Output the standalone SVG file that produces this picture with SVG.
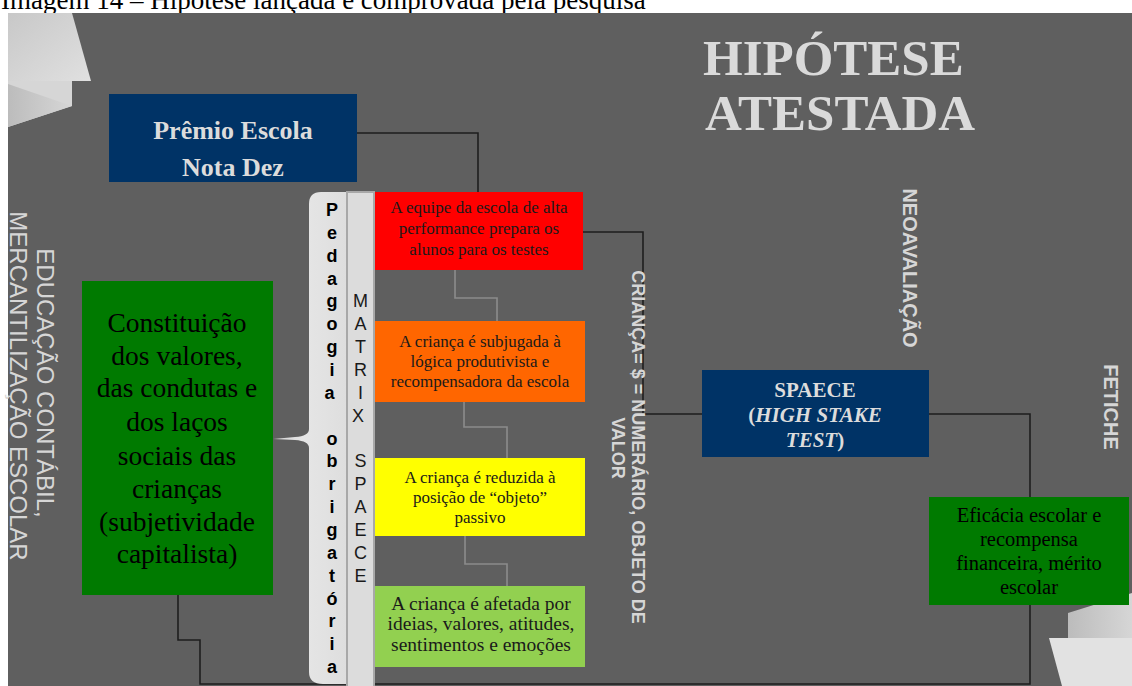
<svg xmlns="http://www.w3.org/2000/svg" width="1132" height="686" viewBox="0 0 1132 686">
<style>
.cap{font-family:"Liberation Serif",serif;font-size:27px;fill:#000}
.title{font-family:"Liberation Serif",serif;font-weight:bold;font-size:51px;fill:#dadada}
.navyt{font-family:"Liberation Serif",serif;font-weight:bold;fill:#dcdcdc;text-anchor:middle}
.bt{font-family:"Liberation Serif",serif;font-size:17px;fill:#1a1a1a;text-anchor:middle}
.bg{font-family:"Liberation Serif",serif;font-size:19.5px;fill:#1a1a1a;text-anchor:middle}
.ef{font-family:"Liberation Serif",serif;font-size:20.5px;fill:#000;text-anchor:middle}
.big{font-family:"Liberation Serif",serif;font-size:27.5px;fill:#000;text-anchor:middle}
.side{font-family:"Liberation Sans",Arial,sans-serif;fill:#d6d6d6;text-anchor:middle}
.sideb{font-family:"Liberation Sans",Arial,sans-serif;font-weight:bold;fill:#d6d6d6;text-anchor:middle}
.ped{font-family:"Liberation Sans",Arial,sans-serif;font-weight:bold;font-size:18px;fill:#000;text-anchor:middle}
.mat{font-family:"Liberation Sans",Arial,sans-serif;font-size:18px;fill:#1a1a1a;text-anchor:middle}
.blk{fill:none;stroke:#1e1e1e;stroke-width:1.6}
.gry{fill:none;stroke:#8c8c8c;stroke-width:1.6}
</style>
<defs>
<linearGradient id="pg1" x1="0" y1="0" x2="1" y2="1"><stop offset="0" stop-color="#c8c8c8"/><stop offset="1" stop-color="#e0e0e0"/></linearGradient>
<linearGradient id="pg2" x1="0" y1="0" x2="1" y2="0"><stop offset="0" stop-color="#bcbcbc"/><stop offset="1" stop-color="#d6d6d6"/></linearGradient>
<linearGradient id="barg" x1="0" y1="0" x2="1" y2="0"><stop offset="0" stop-color="#d0d0d0"/><stop offset="0.4" stop-color="#e6e6e6"/><stop offset="1" stop-color="#dedede"/></linearGradient>
</defs>
<rect x="0" y="0" width="1132" height="686" fill="#ffffff"/>
<text class="cap" x="1" y="9">Imagem 14 – Hipótese lançada e comprovada pela pesquisa</text>
<rect x="8" y="13" width="1124" height="673" fill="#5f5f5f"/>

<g id="deco">
<polygon points="8,13 72,13 91,81 8,81" fill="url(#pg1)"/>
<polygon points="8,81 72,81 72,106 8,127" fill="#d6d6d6"/>
<polygon points="8,84 72,106 8,127" fill="url(#pg2)"/>
<polygon points="1068,613 1132,593 1132,638 1068,638" fill="url(#pg2)"/>
<polygon points="1049,638 1132,638 1132,686 1062,686" fill="#e2e2e2"/>
</g>

<g id="title">
<text class="title" x="703" y="75">HIPÓTESE</text>
<text class="title" x="705" y="130">ATESTADA</text>
</g>

<g id="connectors">
<path class="blk" d="M357,133 H478 V192"/>
<path class="blk" d="M583,232 H643 V414 H702"/>
<path class="blk" d="M929,414 H1030 V497"/>
<path class="blk" d="M178,595 V640 H200 V684 H1030 V605"/>
<path class="gry" d="M455,270 V298 H497 V321"/>
<path class="gry" d="M464,402 V427 H507 V458"/>
<path class="gry" d="M465,536 V564 H507 V586"/>
</g>

<g id="premio">
<rect x="109" y="94" width="248" height="88" fill="#003366"/>
<text class="navyt" x="233" y="139" font-size="26">Prêmio Escola</text>
<text class="navyt" x="233" y="176" font-size="26">Nota Dez</text>
</g>

<g id="label-left">
<text class="side" font-size="24" transform="translate(37,383) rotate(90)">EDUCAÇÃO  CONTÁBIL,</text>
<text class="side" font-size="24" transform="translate(10,386) rotate(90)">MERCANTILIZAÇÃO  ESCOLAR</text>
</g>

<g id="constituicao">
<rect x="82" y="281" width="191" height="314" fill="#007a00"/>
<text class="big" x="177" y="332">Constituição</text>
<text class="big" x="177" y="365">dos valores,</text>
<text class="big" x="177" y="397">das condutas e</text>
<text class="big" x="177" y="431">dos laços</text>
<text class="big" x="177" y="465">sociais das</text>
<text class="big" x="177" y="498">crianças</text>
<text class="big" x="177" y="531">(subjetividade</text>
<text class="big" x="177" y="563">capitalista)</text>
</g>

<g id="pedagogia">
<path d="M321,192 H346 V684 H323 Q309,684 309,672 V448 Q309,441 295,440 L273,439 L295,437 Q309,436 309,429 V204 Q309,192 321,192 Z" fill="url(#barg)"/>
<text class="ped">
<tspan x="332" y="216">P</tspan><tspan x="332" y="238.9">e</tspan><tspan x="332" y="261.7">d</tspan><tspan x="332" y="284.6">a</tspan><tspan x="332" y="307.4">g</tspan><tspan x="332" y="330.3">o</tspan><tspan x="332" y="353.1">g</tspan><tspan x="332" y="376">i</tspan><tspan x="332" y="398.8">a</tspan>
<tspan x="332" y="444.5">o</tspan><tspan x="332" y="467.4">b</tspan><tspan x="332" y="490.2">r</tspan><tspan x="332" y="513.1">i</tspan><tspan x="332" y="535.9">g</tspan><tspan x="332" y="558.8">a</tspan><tspan x="332" y="581.6">t</tspan><tspan x="332" y="604.5">ó</tspan><tspan x="332" y="627.3">r</tspan><tspan x="332" y="650.2">i</tspan><tspan x="332" y="673">a</tspan>
</text>
</g>

<g id="matrix">
<rect x="347" y="192" width="27" height="495" fill="#dcdcdc" stroke="#a8a8a8" stroke-width="2"/>
<text class="mat">
<tspan x="360.5" y="307.4">M</tspan><tspan x="360.5" y="330.3">A</tspan><tspan x="360.5" y="353.1">T</tspan><tspan x="360.5" y="376">R</tspan><tspan x="360.5" y="398.8">I</tspan><tspan x="360.5" y="421.7">X</tspan>
<tspan x="360.5" y="467.4">S</tspan><tspan x="360.5" y="490.2">P</tspan><tspan x="360.5" y="513.1">A</tspan><tspan x="360.5" y="535.9">E</tspan><tspan x="360.5" y="558.8">C</tspan><tspan x="360.5" y="581.6">E</tspan>
</text>
</g>

<g id="box-red">
<rect x="375" y="192" width="208" height="78" fill="#ff0000"/>
<text class="bt" x="479" y="213">A equipe da escola de alta</text>
<text class="bt" x="479" y="234">performance prepara os</text>
<text class="bt" x="479" y="255">alunos para os testes</text>
</g>

<g id="box-orange">
<rect x="375" y="321" width="210" height="81" fill="#ff6600"/>
<text class="bt" x="480" y="347">A criança é subjugada à</text>
<text class="bt" x="480" y="367">lógica produtivista  e</text>
<text class="bt" x="480" y="387">recompensadora da escola</text>
</g>

<g id="box-yellow">
<rect x="375" y="458" width="210" height="78" fill="#ffff00"/>
<text class="bt" x="480" y="483">A criança é reduzida à</text>
<text class="bt" x="480" y="503">posição de “objeto”</text>
<text class="bt" x="480" y="523">passivo</text>
</g>

<g id="box-lightgreen">
<rect x="375" y="586" width="210" height="81" fill="#92d050"/>
<text class="bg" x="481" y="610">A criança é afetada por</text>
<text class="bg" x="481" y="630">ideias, valores, atitudes,</text>
<text class="bg" x="481" y="651">sentimentos e emoções</text>
</g>

<g id="label-crianca">
<text class="sideb" font-size="18" transform="translate(632,447) rotate(90)">CRIANÇA= $ = NUMERÁRIO, OBJETO DE</text>
<text class="sideb" font-size="18" transform="translate(612,448) rotate(90)">VALOR</text>
</g>

<g id="label-neo">
<text class="sideb" font-size="20" transform="translate(903,268) rotate(90)">NEOAVALIAÇÃO</text>
</g>

<g id="label-fetiche">
<text class="sideb" font-size="20" transform="translate(1104,407) rotate(90)">FETICHE</text>
</g>

<g id="spaece">
<rect x="702" y="370" width="227" height="87" fill="#003366"/>
<text class="navyt" x="815" y="397" font-size="21">SPAECE</text>
<text class="navyt" x="815" y="422" font-size="21">(<tspan font-style="italic">HIGH STAKE</tspan></text>
<text class="navyt" x="815" y="447" font-size="21"><tspan font-style="italic">TEST</tspan>)</text>
</g>

<g id="eficacia">
<rect x="929" y="497" width="200" height="108" fill="#007a00"/>
<text class="ef" x="1029" y="522">Eficácia escolar e</text>
<text class="ef" x="1029" y="546">recompensa</text>
<text class="ef" x="1029" y="570">financeira, mérito</text>
<text class="ef" x="1029" y="594">escolar</text>
</g>
</svg>
